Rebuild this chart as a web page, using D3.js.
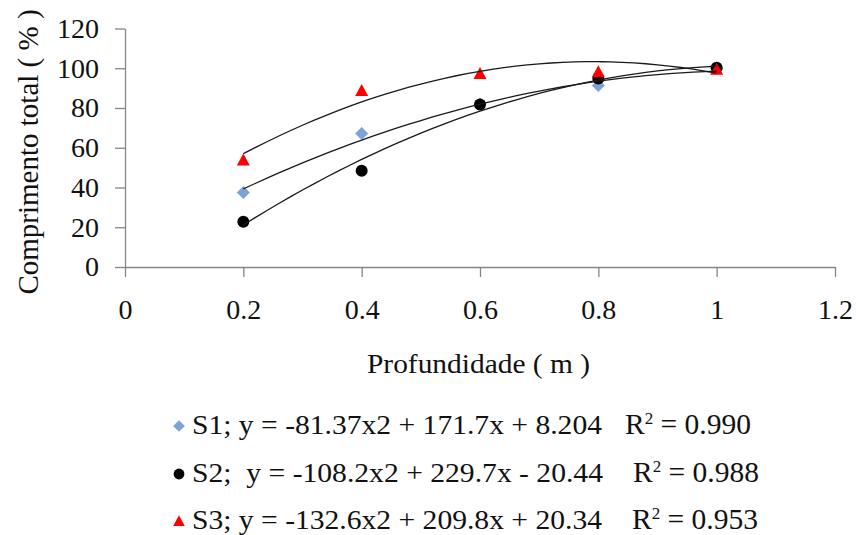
<!DOCTYPE html>
<html>
<head>
<meta charset="utf-8">
<script src="https://cdn.jsdelivr.net/npm/d3@7"></script>
<style>
    body { margin: 0; background: #fff; }
    text { font-family: "Liberation Serif", "Times New Roman", serif; fill: #111; }
</style>
</head>
<body>
<div id="chart"></div>
<script>
// data
var depths = [0.2, 0.4, 0.6, 0.8, 1.0];
var s1Values = [37.5, 67.2, 82, 91.3, 100];
var s2Values = [22.8, 48.4, 81.8, 94.8, 100.2];
var s3Values = [53.8, 88.8, 97.4, 98.3, 99.5];

// quadratic trendline coefficients [a, b, c] for y = a x2 + b x + c
var s1Coefs = [-81.37, 171.7, 8.204];
var s2Coefs = [-108.2, 229.7, -20.44];
var s3Coefs = [-132.6, 209.8, 20.34];

var xTicks = [0, 0.2, 0.4, 0.6, 0.8, 1, 1.2];
var yTicks = [0, 20, 40, 60, 80, 100, 120];

var legendLabels = [
    "S1; y = -81.37x2 + 171.7x + 8.204",
    "S2;  y = -108.2x2 + 229.7x - 20.44",
    "S3; y = -132.6x2 + 209.8x + 20.34"
];
var legendR2 = ["0.990", "0.988", "0.953"];

pageSetup();

function pageSetup() {
    const width = 856;
    const height = 535;

    const svg = d3.select("#chart").append("svg")
        .attr("width", width)
        .attr("height", height);

    svg.append("rect").attr("width", width).attr("height", height).attr("fill", "#fff");

    // scales
    const x = d3.scaleLinear().domain([0, 1.2]).range([125, 835]);
    const y = d3.scaleLinear().domain([0, 120]).range([267, 28.5]);

    // axes
    const yAxis = svg.append("g")
        .attr("transform", "translate(125,0)")
        .call(d3.axisLeft(y).tickValues(yTicks).tickSize(10).tickSizeOuter(0).tickPadding(16));
    const xAxis = svg.append("g")
        .attr("transform", "translate(0,267)")
        .call(d3.axisBottom(x).tickValues(xTicks).tickSize(10).tickSizeOuter(0).tickPadding(22)
            .tickFormat(d => d));
    [xAxis, yAxis].forEach(function(ax) {
        ax.selectAll("path, line").attr("stroke", "#868686").attr("stroke-width", 1.3);
        ax.selectAll("text").attr("font-size", 28).attr("font-family", null).attr("fill", "#111");
    });

    // axis titles
    svg.append("text")
        .attr("x", 367).attr("y", 373)
        .attr("font-size", 28)
        .attr("textLength", 223)
        .attr("lengthAdjust", "spacingAndGlyphs")
        .text("Profundidade ( m )");
    svg.append("text")
        .attr("transform", "translate(38,152) rotate(-90)")
        .attr("text-anchor", "middle")
        .attr("font-size", 29)
        .text("Comprimento total ( % )");

    const series = [
        { values: s1Values, coefs: s1Coefs, shape: "diamond", color: "#7DA2D8" },
        { values: s2Values, coefs: s2Coefs, shape: "circle", color: "#000" },
        { values: s3Values, coefs: s3Coefs, shape: "triangle", color: "#ff0000" }
    ];

    // markers
    series.forEach(function(s) {
        svg.append("g").selectAll("path")
            .data(s.values)
            .enter()
            .append("path")
            .attr("d", markerPath(s.shape, 1))
            .attr("transform", (d, i) => `translate(${x(depths[i])},${y(d)})`)
            .attr("fill", s.color);
    });

    // trendlines
    const line = d3.line().x(d => x(d[0])).y(d => y(d[1])).curve(d3.curveBasis);
    series.forEach(function(s) {
        let pts = d3.range(0.2, 1.0001, 0.02).map(function(t) {
            return [t, s.coefs[0] * t * t + s.coefs[1] * t + s.coefs[2]];
        });
        svg.append("path")
            .attr("d", line(pts))
            .attr("fill", "none")
            .attr("stroke", "#1a1a1a")
            .attr("stroke-width", 1.3);
    });

    // legend
    const baselines = [434, 482, 529];
    const leftWidths = [410, 411, 410];
    const r2X = [625, 633, 632];
    series.forEach(function(s, i) {
        svg.append("path")
            .attr("d", markerPath(s.shape, 0.9))
            .attr("transform", `translate(179,${baselines[i] - 8})`)
            .attr("fill", s.color);
        svg.append("text")
            .attr("x", 192).attr("y", baselines[i])
            .attr("font-size", 28)
            .attr("textLength", leftWidths[i])
            .attr("lengthAdjust", "spacingAndGlyphs")
            .style("white-space", "pre")
            .text(legendLabels[i]);
        let t = svg.append("text")
            .attr("x", r2X[i]).attr("y", baselines[i])
            .attr("font-size", 29.5);
        t.append("tspan").text("R");
        t.append("tspan").attr("font-size", 17).attr("dy", -10).text("2");
        t.append("tspan").attr("dy", 10).text(" = " + legendR2[i]);
    });
}

// returns a path for a marker shape centred on 0,0
function markerPath(shape, k) {
    switch(shape) {
        case "diamond":
            return `M0,${-6.5 * k}L${6.5 * k},0L0,${6.5 * k}L${-6.5 * k},0Z`;
        case "circle":
            return d3.symbol().type(d3.symbolCircle).size(Math.PI * 36 * k * k)();
        case "triangle":
            return `M0,${-6.5 * k}L${6.5 * k},${5.5 * k}L${-6.5 * k},${5.5 * k}Z`;
    }
}
</script>
</body>
</html>
